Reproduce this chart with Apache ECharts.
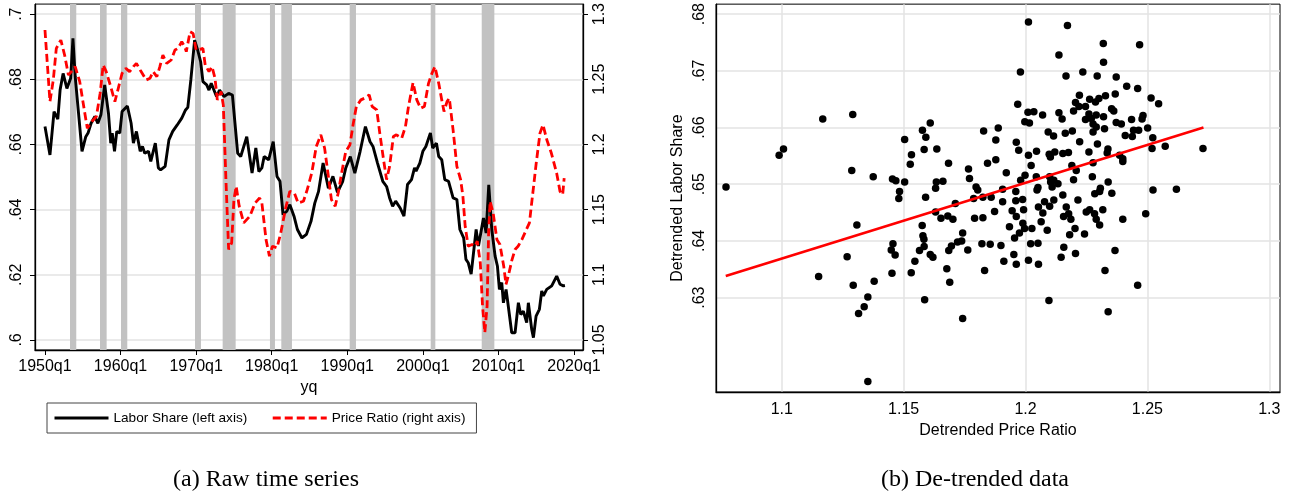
<!DOCTYPE html>
<html>
<head>
<meta charset="utf-8">
<script src="https://cdn.jsdelivr.net/npm/echarts@6/dist/echarts.min.js"></script>
<style>html,body{margin:0;padding:0;background:#fff;}#c{width:1301px;height:498px;}</style>
</head>
<body>
<div id="c"></div>
<script>
// ---------- Panel (a): raw time series ----------
const lsYear = [1950.0,1950.66,1951.2,1951.7,1952.0,1952.4,1952.9,1953.4,1953.7,1954.0,1954.4,1954.9,1955.4,1955.7,1956.1,1956.6,1957.0,1957.4,1957.9,1958.4,1958.7,1958.9,1959.2,1959.5,1959.9,1960.2,1960.9,1961.4,1961.7,1962.1,1962.6,1962.9,1963.2,1963.7,1964.0,1964.6,1965.0,1965.3,1965.9,1966.4,1966.9,1967.5,1968.1,1968.6,1968.9,1969.3,1969.8,1970.2,1970.6,1970.9,1971.4,1971.7,1972.0,1972.7,1973.1,1973.7,1974.3,1974.8,1975.5,1975.9,1976.7,1977.4,1977.9,1978.3,1978.7,1979.0,1979.6,1980.2,1980.7,1981.1,1981.5,1982.0,1982.4,1982.95,1983.4,1984.0,1984.6,1985.2,1985.7,1986.2,1986.8,1987.5,1988.1,1988.7,1989.4,1989.8,1990.4,1991.0,1991.7,1992.4,1993.0,1993.4,1994.0,1994.7,1995.2,1995.6,1996.0,1996.4,1997.0,1997.5,1997.97,1998.5,1998.9,1999.1,1999.6,2000.0,2000.4,2001.0,2001.3,2001.8,2002.1,2002.5,2002.9,2003.4,2004.0,2004.5,2004.9,2005.4,2005.7,2006.0,2006.39,2007.05,2007.36,2008.02,2008.37,2008.72,2009.12,2009.56,2009.87,2010.13,2010.44,2010.66,2011.01,2011.19,2011.76,2012.2,2012.64,2012.95,2013.3,2013.74,2013.96,2014.4,2014.63,2014.98,2015.42,2015.73,2015.95,2016.39,2017.05,2017.71,2018.15,2018.59,2018.8];
const lsValue = [.6655,.6568,.6701,.6678,.6767,.6818,.6772,.6803,.6926,.6808,.6706,.6579,.6624,.6635,.6665,.6686,.6665,.6691,.6783,.6696,.6604,.6635,.6579,.6640,.6635,.6701,.6718,.6665,.6604,.6640,.6579,.6594,.6573,.6579,.6548,.6604,.6528,.6522,.6533,.6614,.6640,.6660,.6681,.6706,.6714,.6798,.6920,.6890,.6854,.6793,.6783,.6767,.6788,.6747,.6767,.6747,.6757,.6752,.6573,.6563,.6624,.6512,.6589,.6517,.6528,.6563,.6553,.6609,.6502,.6487,.6385,.6395,.6415,.6380,.6339,.6313,.6324,.6364,.6420,.6456,.6543,.6466,.6502,.6453,.6487,.6528,.6563,.6512,.6579,.6655,.6609,.6594,.6543,.6487,.6471,.6436,.6410,.6426,.6405,.6380,.6477,.6492,.6528,.6518,.6543,.6579,.6594,.6635,.6589,.6604,.6563,.6553,.6492,.6487,.6436,.6431,.6339,.6313,.6247,.6237,.6202,.6339,.6288,.6374,.6328,.6476,.6339,.6257,.6226,.6155,.6176,.6114,.6155,.6124,.6022,.6022,.6114,.6078,.6088,.6053,.6114,.6033,.6007,.6073,.6094,.6150,.6135,.6155,.6166,.6196,.6171,.6166,.6167];

const prYear = [1950.0,1950.66,1951.1,1951.5,1952.1,1952.6,1953.1,1953.5,1954.0,1954.6,1955.2,1955.6,1956.2,1956.8,1957.3,1957.7,1958.1,1958.7,1959.25,1959.7,1960.2,1960.7,1961.2,1961.7,1962.1,1962.6,1963.0,1963.4,1963.9,1964.3,1964.8,1965.2,1965.6,1966.1,1966.7,1967.2,1967.6,1968.1,1968.5,1968.7,1969.2,1969.6,1970.0,1970.5,1970.9,1971.2,1971.7,1972.1,1972.5,1972.8,1973.3,1973.6,1973.96,1974.3,1974.7,1975.0,1975.3,1975.7,1976.3,1977.1,1977.8,1978.4,1978.7,1979.25,1979.7,1980.1,1980.7,1981.2,1981.9,1982.4,1983.0,1983.5,1984.2,1984.7,1985.3,1985.9,1986.5,1987.0,1987.5,1987.9,1988.4,1988.8,1989.25,1989.8,1990.35,1990.8,1991.2,1991.8,1992.3,1992.9,1993.3,1993.9,1994.3,1994.8,1995.2,1995.6,1996.1,1996.5,1997.2,1997.7,1998.1,1998.7,1999.2,1999.7,2000.2,2000.75,2001.2,2001.6,2002.1,2002.5,2002.8,2003.2,2003.5,2004.0,2004.5,2005.0,2005.3,2005.6,2006.0,2006.5,2006.9,2007.2,2007.6,2007.9,2008.2,2008.5,2008.7,2008.9,2009.3,2009.8,2010.2,2010.7,2011.0,2011.3,2011.8,2012.2,2012.6,2013.1,2013.7,2014.1,2014.5,2015.0,2015.5,2015.9,2016.4,2017.0,2017.7,2018.15,2018.5,2018.7];
const prValue = [1.2878,1.2329,1.2495,1.2737,1.2801,1.2686,1.2533,1.2559,1.2597,1.2482,1.2265,1.2125,1.2176,1.2214,1.2393,1.2610,1.2559,1.2444,1.2329,1.2431,1.2546,1.2584,1.2559,1.2597,1.2622,1.2571,1.2533,1.2495,1.2508,1.2559,1.2520,1.2597,1.2686,1.2622,1.2648,1.2724,1.2737,1.2788,1.2750,1.2712,1.2865,1.2852,1.2724,1.2730,1.2737,1.2610,1.2559,1.2597,1.2508,1.2342,1.2406,1.2300,1.1704,1.1194,1.1245,1.1577,1.1679,1.1526,1.1398,1.1449,1.1551,1.1589,1.1551,1.1270,1.1143,1.1219,1.1207,1.1321,1.1526,1.1640,1.1628,1.1551,1.1564,1.1653,1.1781,1.1985,1.2074,1.1972,1.1755,1.1577,1.1526,1.1628,1.1781,1.1946,1.1997,1.2163,1.2291,1.2342,1.2355,1.2380,1.2291,1.2265,1.2087,1.1883,1.1730,1.1832,1.2061,1.2074,1.2048,1.2138,1.2291,1.2474,1.2342,1.2278,1.2291,1.2469,1.2546,1.2597,1.2469,1.2342,1.2253,1.2329,1.2355,1.2112,1.1832,1.1730,1.1602,1.1372,1.1219,1.1232,1.1219,1.1258,1.1092,1.0760,1.0556,1.0760,1.1321,1.1564,1.1474,1.1270,1.1232,1.1066,1.0926,1.0990,1.1117,1.1194,1.1219,1.1270,1.1347,1.1398,1.1602,1.1857,1.2087,1.2151,1.2036,1.1934,1.1781,1.1640,1.1615,1.1742];

const recessionStart = [1953.31,1957.28,1960.06,1969.85,1973.51,1979.77,1981.27,1990.32,2001.04,2007.79];
const recessionEnd   = [1954.14,1958.16,1960.89,1970.64,1975.23,1980.43,1982.68,1991.15,2001.65,2009.46];

const yearTicks = [1950,1960,1970,1980,1990,2000,2010,2020];
const laborTicks = [0.6,0.62,0.64,0.66,0.68,0.7];
const priceTicks = [1.05,1.1,1.15,1.2,1.25,1.3];

// ---------- Panel (b): de-trended data ----------
const dtPrice = [1.0771,1.0989,1.1007,1.1168,1.1291,1.1287,1.1375,1.1454,1.1468,1.1504,1.1483,1.1480,1.1504,1.1532,1.1527,1.1577,1.1591,1.1584,1.1609,1.1636,1.1634,1.1631,1.1661,1.1590,1.1684,1.1766,1.1770,1.1712,1.1631,1.1653,1.1681,1.1702,
1.1308,1.1268,1.1151,1.1293,1.1379,1.1353,1.1338,1.1315,1.1353,1.1456,1.1449,1.1465,1.1452,1.1531,1.1546,1.1565,1.1576,1.1579,1.1583,1.1584,1.1609,1.1620,1.1586,1.1677,1.1689,1.1685,1.1696,1.1721,1.1738,1.1742,1.1742,1.1763,
1.2012,1.2172,1.2319,1.2468,1.2320,1.2137,1.1979,1.2166,1.2235,1.2294,1.2372,1.2415,1.2460,1.1968,1.2010,1.2034,1.2070,1.1997,1.2016,1.2137,1.2150,1.2221,1.2263,1.2205,1.2219,1.2246,1.2197,1.2287,1.2301,1.2328,1.2368,1.2353,1.2362,1.2260,1.2246,1.2270,1.2290,1.2320,1.2277,1.2290,1.2324,1.2277,1.2372,1.2393,1.2435,1.2478,1.2482,1.2515,1.2546,1.2501,1.2443,1.2464,1.2409,1.2438,1.2522,1.2519,1.2573,1.2728,
1.1828,1.1888,1.1878,1.1962,1.1972,1.2012,1.2045,1.2093,1.2115,1.2163,1.2192,1.2222,1.2295,1.2338,1.2335,1.2260,1.2097,1.2120,1.2102,1.2153,1.2176,1.2386,1.2399,1.2399,1.2277,1.1844,1.1878,1.1921,1.2023,1.2190,1.2208,1.1998,1.1980,1.2044,1.2099,1.2116,1.2103,1.2133,1.2197,1.2274,1.2339,1.2109,1.1797,1.1804,1.1906,1.1960,1.2051,1.2047,1.2307,1.2304,1.2153,1.2284,1.2354,1.2523,1.2619,
1.1787,1.1825,1.1859,1.1906,1.1960,1.1988,1.1992,1.2053,1.2078,1.2116,1.2099,1.2167,1.2215,1.2177,1.2249,1.2263,1.2317,1.2283,1.2399,1.2493,1.1873,1.1945,1.1962,1.1791,1.1825,1.2156,
1.2290,1.2304,1.2186,1.2203,1.2181,1.2242,1.2089,1.2064,1.2071,1.2026,1.1989,1.1996,1.1975,1.1955,1.1934,1.1821,1.1855,1.1899,1.1952,1.1911,1.1962,1.2012,1.2021,1.2051,1.2053,1.1832,1.2157,1.2146,1.2205,1.2367,1.2326,1.2460,1.2096,1.2339];
const dtLabor = [.6495,.6551,.6562,.6615,.6623,.6524,.6513,.6509,.6506,.6504,.6487,.6475,.6579,.6552,.6535,.6595,.6583,.6561,.6608,.6562,.6504,.6493,.6505,.6477,.6537,.6527,.6510,.6466,.6451,.6440,.6444,.6438,
.6428,.6372,.6337,.6322,.6329,.6301,.6284,.6272,.6152,.6395,.6384,.6375,.6343,.6344,.6364,.6383,.6427,.6409,.6403,.6390,.6376,.6371,.6296,.6351,.6327,.6383,.6391,.6398,.6400,.6414,.6263,.6384,
.6786,.6780,.6748,.6746,.6715,.6728,.6698,.6691,.6698,.6691,.6689,.6673,.6669,.6641,.6627,.6628,.6622,.6610,.6608,.6626,.6615,.6657,.6650,.6644,.6637,.6637,.6629,.6645,.6651,.6656,.6659,.6633,.6629,.6624,.6614,.6616,.6622,.6619,.6606,.6601,.6598,.6592,.6609,.6606,.6614,.6615,.6621,.6652,.6642,.6599,.6595,.6595,.6586,.6584,.6582,.6563,.6567,.6563,
.6594,.6599,.6578,.6574,.6560,.6551,.6558,.6592,.6585,.6590,.6594,.6575,.6571,.6562,.6555,.6557,.6553,.6557,.6548,.6554,.6556,.6551,.6545,.6540,.6538,.6537,.6543,.6520,.6533,.6533,.6524,.6516,.6507,.6513,.6513,.6507,.6504,.6501,.6508,.6513,.6504,.6495,.6495,.6490,.6491,.6487,.6494,.6490,.6493,.6487,.6481,.6483,.6484,.6490,.6491,
.6475,.6477,.6477,.6469,.6471,.6473,.6455,.6460,.6469,.6472,.6461,.6460,.6472,.6448,.6451,.6455,.6455,.6448,.6438,.6448,.6452,.6453,.6443,.6440,.6441,.6443,
.6438,.6428,.6438,.6422,.6411,.6412,.6419,.6434,.6449,.6422,.6431,.6422,.6414,.6405,.6425,.6395,.6394,.6392,.6376,.6364,.6359,.6366,.6395,.6396,.6359,.6348,.6389,.6371,.6378,.6383,.6348,.6322,.6295,.6275];
const fitPrice = [1.077, 1.273];
const fitLabor = [0.6338, 0.6600];
const dtPriceTicks = [1.1,1.15,1.2,1.25,1.3];
const dtLaborTicks = [0.63,0.64,0.65,0.66,0.67,0.68];

// ---------- build ----------
const FONT = '"Liberation Sans", Arial, Helvetica, sans-serif';
const SERIF = '24px "Liberation Serif", "DejaVu Serif", serif';
const zip = (a, b) => a.map((v, i) => [v, b[i]]);
const fmtNum = v => String(+(+v).toFixed(3));
const fmtLead = v => fmtNum(v).replace(/^0\./, '.');
const gridColor = '#e3e3e3';
const lbl = {fontSize: 16, color: '#000', fontFamily: FONT};

const chart = echarts.init(document.getElementById('c'), null, {renderer: 'canvas'});
chart.setOption({
  animation: false,
  backgroundColor: '#fff',
  grid: [
    {left: 35, top: 4, width: 548, height: 346, show: true, borderColor: '#000', borderWidth: 1},
    {left: 716, top: 4, width: 564, height: 388, show: true, borderColor: '#000', borderWidth: 1}
  ],
  xAxis: [
    {gridIndex: 0, type: 'value', min: 1948.68, max: 2021.19,
     name: 'yq', nameLocation: 'middle', nameGap: 30, nameTextStyle: lbl,
     axisLine: {show: true, onZero: false, lineStyle: {color: '#000', width: 1.3}},
     axisTick: {show: true, length: 5, customValues: yearTicks, lineStyle: {color: '#000', width: 1}},
     axisLabel: Object.assign({customValues: yearTicks, margin: 9, formatter: v => v + 'q1'}, lbl),
     splitLine: {show: false}},
    {gridIndex: 1, type: 'value', min: 1.073, max: 1.3044,
     name: 'Detrended Price Ratio', nameLocation: 'middle', nameGap: 23, nameTextStyle: lbl,
     axisLine: {show: true, onZero: false, lineStyle: {color: '#000', width: 1.3}},
     axisTick: {show: false, customValues: dtPriceTicks},
     axisLabel: Object.assign({customValues: dtPriceTicks, margin: 10, formatter: fmtNum}, lbl),
     splitLine: {show: true, lineStyle: {color: gridColor, width: 1.5}}}
  ],
  yAxis: [
    {gridIndex: 0, type: 'value', position: 'left', min: 0.5969, max: 0.7031,
     axisLine: {show: true, onZero: false, lineStyle: {color: '#000', width: 1.3}},
     axisTick: {show: true, length: 5, customValues: laborTicks, lineStyle: {color: '#000', width: 1}},
     axisLabel: Object.assign({customValues: laborTicks, rotate: 90, margin: 10, formatter: fmtLead}, lbl),
     splitLine: {show: true, lineStyle: {color: gridColor, width: 1.5}}},
    {gridIndex: 0, type: 'value', position: 'right', min: 1.0423, max: 1.3077,
     axisLine: {show: true, onZero: false, lineStyle: {color: '#000', width: 1.3}},
     axisTick: {show: true, length: 5, customValues: priceTicks, lineStyle: {color: '#000', width: 1}},
     axisLabel: Object.assign({customValues: priceTicks, rotate: 90, margin: 9, formatter: fmtNum}, lbl),
     splitLine: {show: false}},
    {gridIndex: 1, type: 'value', min: 0.61335, max: 0.68176,
     name: 'Detrended Labor Share', nameLocation: 'middle', nameGap: 30, nameRotate: 90, nameTextStyle: lbl,
     axisLine: {show: true, onZero: false, lineStyle: {color: '#000', width: 1.3}},
     axisTick: {show: false, customValues: dtLaborTicks},
     axisLabel: Object.assign({customValues: dtLaborTicks, rotate: 90, margin: 8, formatter: fmtLead}, lbl),
     splitLine: {show: true, lineStyle: {color: gridColor, width: 1.5}}}
  ],
  legend: {
    left: 47, top: 403, orient: 'horizontal',
    itemWidth: 54, itemHeight: 14, itemGap: 24,
    padding: [8, 11, 8, 6],
    borderColor: '#444', borderWidth: 1,
    itemStyle: {opacity: 0},
    lineStyle: {width: 3},
    textStyle: {fontSize: 13.6, color: '#000', fontFamily: FONT},
    data: ['Labor Share (left axis)', 'Price Ratio (right axis)']
  },
  series: [
    {name: 'Labor Share (left axis)', type: 'line', xAxisIndex: 0, yAxisIndex: 0,
     data: zip(lsYear, lsValue), symbol: 'none', z: 3,
     lineStyle: {color: '#000', width: 2.9}, itemStyle: {color: '#000'},
     markArea: {silent: true, itemStyle: {color: '#c2c2c2'},
       data: recessionStart.map((s, i) => [{xAxis: s}, {xAxis: recessionEnd[i]}])}},
    {name: 'Price Ratio (right axis)', type: 'line', xAxisIndex: 0, yAxisIndex: 1,
     data: zip(prYear, prValue), symbol: 'none', z: 4,
     lineStyle: {color: '#ff0000', width: 2.8, type: [8, 4]}, itemStyle: {color: '#ff0000'}},
    {name: 'scatter', type: 'scatter', xAxisIndex: 1, yAxisIndex: 2,
     data: zip(dtPrice, dtLabor), symbolSize: 7.5, itemStyle: {color: '#000', opacity: 1}, z: 3},
    {name: 'fit', type: 'line', xAxisIndex: 1, yAxisIndex: 2,
     data: zip(fitPrice, fitLabor), symbol: 'none', z: 4,
     lineStyle: {color: '#ff0000', width: 2.6}}
  ],
  graphic: [
    {type: 'text', x: 266, y: 480, style: {text: '(a) Raw time series', font: SERIF, align: 'center', verticalAlign: 'middle', fill: '#000'}},
    {type: 'text', x: 975, y: 480, style: {text: '(b) De-trended data', font: SERIF, align: 'center', verticalAlign: 'middle', fill: '#000'}}
  ]
});
</script>
</body>
</html>
